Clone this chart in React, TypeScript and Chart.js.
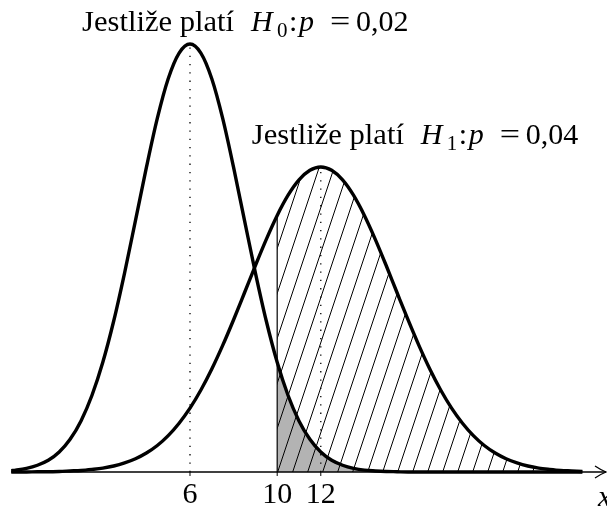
import React, { useEffect, useRef } from "react";
import { Chart, registerables } from "chart.js";

Chart.register(...registerables);

// x grid of the two density curves
const X = [
  -2.2, -2, -1.5, -1, -0.5, 0, 0.5, 1, 1.5, 2, 2.5, 3, 3.5, 4, 4.5, 5, 5.5, 6,
  6.5, 7, 7.5, 8, 8.5, 9, 9.5, 10, 10.5, 11, 11.5, 12, 12.5, 13, 13.5, 14, 14.5,
  15, 15.5, 16, 16.5, 17, 17.5, 18, 18.5, 19, 19.5, 20, 20.5, 21, 21.5, 22, 22.5,
  23, 23.5, 24,
];

// H0: p = 0,02 (mean 6)
const H0 = [
  0.0005, 0.0007, 0.0014, 0.0026, 0.0045, 0.0077, 0.0126, 0.0197, 0.0295, 0.0423,
  0.0582, 0.0768, 0.097, 0.1174, 0.1363, 0.1516, 0.1615, 0.165, 0.1615, 0.1516,
  0.1363, 0.1174, 0.097, 0.0768, 0.0582, 0.0423, 0.0295, 0.0197, 0.0126, 0.0077,
  0.0045, 0.0026, 0.0014, 0.0007, 0.0004, 0.0002, 0.0001, 0, 0, 0, 0, 0, 0, 0, 0,
  0, 0, 0, 0, 0, 0, 0, 0, 0,
];

// H1: p = 0,04 (mean 12)
const H1 = [
  0, 0, 0, 0.0001, 0.0001, 0.0002, 0.0004, 0.0006, 0.001, 0.0015, 0.0023, 0.0035,
  0.0051, 0.0073, 0.0102, 0.014, 0.0188, 0.0246, 0.0316, 0.0397, 0.0488, 0.0587,
  0.0691, 0.0796, 0.0897, 0.0989, 0.1067, 0.1126, 0.1163, 0.1176, 0.1163, 0.1126,
  0.1067, 0.0989, 0.0897, 0.0796, 0.0691, 0.0587, 0.0488, 0.0397, 0.0316, 0.0246,
  0.0188, 0.014, 0.0102, 0.0073, 0.0051, 0.0035, 0.0023, 0.0015, 0.001, 0.0006,
  0.0004, 0.0002,
];

const MEAN0 = 6;
const MEAN1 = 12;
const CRITICAL = 10;
const TICK_VALUES = [6, 10, 12];
const TICK_LABELS = ["6", "10", "12"];
const AXIS_LABEL = "x";
const TITLE0 = { text: "Jestliže platí", sub: "0", value: "0,02" };
const TITLE1 = { text: "Jestliže platí", sub: "1", value: "0,04" };

const SERIF = '"Liberation Serif", "Times New Roman", serif';

function pts(ys: number[]) {
  return X.map((x, i) => ({ x, y: ys[i] }));
}
function tail(ys: number[]) {
  return X.map((x, i) => ({ x, y: ys[i] })).filter((p) => p.x >= CRITICAL);
}
function valAt(ys: number[], x: number) {
  return ys[X.indexOf(x)];
}

function makeHatch(ctx: CanvasRenderingContext2D) {
  const w = 15;
  const h = 45;
  const c = document.createElement("canvas");
  c.width = w;
  c.height = h;
  const g = c.getContext("2d")!;
  g.strokeStyle = "#000";
  g.lineWidth = 1;
  for (const off of [-w, 0, w]) {
    g.beginPath();
    g.moveTo(off, h);
    g.lineTo(off + w, 0);
    g.stroke();
  }
  return ctx.createPattern(c, "repeat")!;
}

function txt(
  ctx: CanvasRenderingContext2D,
  s: string,
  font: string,
  x: number,
  y: number,
  sx = 1
) {
  ctx.save();
  ctx.font = font;
  ctx.translate(x, y);
  ctx.scale(sx, 1);
  ctx.fillText(s, 0, 0);
  ctx.restore();
}

function drawTitle(
  ctx: CanvasRenderingContext2D,
  left: number,
  base: number,
  t: { text: string; sub: string; value: string }
) {
  const roman = `30px ${SERIF}`;
  const ital = `italic 30px ${SERIF}`;
  const small = `21px ${SERIF}`;
  ctx.textAlign = "left";
  ctx.textBaseline = "alphabetic";
  ctx.fillStyle = "#000";
  txt(ctx, t.text, roman, left, base, 1.02);
  txt(ctx, "H", ital, left + 169, base);
  txt(ctx, t.sub, small, left + 195, base + 6);
  txt(ctx, ":", roman, left + 207, base);
  txt(ctx, "p", ital, left + 217, base);
  txt(ctx, "=", roman, left + 248, base, 1.2);
  txt(ctx, t.value, roman, left + 274, base);
}

const decor = {
  id: "decor",
  afterDatasetsDraw(chart: any) {
    const ctx: CanvasRenderingContext2D = chart.ctx;
    const xs = chart.scales.x;
    const ys = chart.scales.y;
    const y0 = ys.getPixelForValue(0);
    const right = chart.chartArea.right;
    ctx.save();
    ctx.strokeStyle = "#000";
    ctx.lineWidth = 1.3;
    ctx.beginPath();
    ctx.moveTo(xs.getPixelForValue(X[0]), y0);
    ctx.lineTo(right - 1, y0);
    ctx.stroke();
    const tip = right - 1;
    ctx.beginPath();
    ctx.moveTo(tip - 11, y0 - 6);
    ctx.quadraticCurveTo(tip - 5, y0 - 2, tip, y0);
    ctx.quadraticCurveTo(tip - 5, y0 + 2, tip - 11, y0 + 6);
    ctx.stroke();

    // ticks & labels
    ctx.lineWidth = 1;
    ctx.fillStyle = "#000";
    ctx.font = `30px ${SERIF}`;
    ctx.textAlign = "center";
    ctx.textBaseline = "alphabetic";
    TICK_VALUES.forEach((v, i) => {
      const px = xs.getPixelForValue(v);
      ctx.beginPath();
      ctx.moveTo(px, y0);
      ctx.lineTo(px, y0 + 4);
      ctx.stroke();
      ctx.fillText(TICK_LABELS[i], px, y0 + 31);
    });
    ctx.font = `italic 30px ${SERIF}`;
    ctx.textAlign = "left";
    ctx.fillText(AXIS_LABEL, right - 9, y0 + 34);

    // titles anchored at the peaks
    const p0x = xs.getPixelForValue(MEAN0);
    const p0y = ys.getPixelForValue(valAt(H0, MEAN0));
    drawTitle(ctx, p0x - 108, p0y - 13, TITLE0);
    const p1x = xs.getPixelForValue(MEAN1);
    const p1y = ys.getPixelForValue(valAt(H1, MEAN1));
    drawTitle(ctx, p1x - 69, p1y - 23, TITLE1);
    ctx.restore();
  },
};

export default function App() {
  const ref = useRef<HTMLCanvasElement>(null);
  useEffect(() => {
    const canvas = ref.current!;
    const ctx = canvas.getContext("2d")!;
    const hatch = makeHatch(ctx);
    const curve = {
      borderColor: "#000",
      borderWidth: 3.4,
      pointRadius: 0,
      fill: false,
      cubicInterpolationMode: "monotone" as const,
    };
    const chart = new Chart(canvas, {
      type: "line",
      data: {
        datasets: [
          {
            data: tail(H0),
            borderColor: "rgba(0,0,0,0)",
            borderWidth: 0,
            backgroundColor: "#b3b3b3",
            fill: "origin",
            pointRadius: 0,
            cubicInterpolationMode: "monotone",
            order: 6,
          },
          {
            data: tail(H1),
            borderColor: "rgba(0,0,0,0)",
            borderWidth: 0,
            backgroundColor: hatch,
            fill: "origin",
            pointRadius: 0,
            cubicInterpolationMode: "monotone",
            order: 5,
          },
          {
            data: [
              { x: CRITICAL, y: 0 },
              { x: CRITICAL, y: valAt(H1, CRITICAL) },
            ],
            borderColor: "#000",
            borderWidth: 1.2,
            pointRadius: 0,
            fill: false,
            order: 4,
          },
          {
            data: [
              { x: MEAN0, y: 0 },
              { x: MEAN0, y: valAt(H0, MEAN0) },
            ],
            borderColor: "#000",
            borderWidth: 1.3,
            borderDash: [1.3, 7],
            pointRadius: 0,
            fill: false,
            order: 4,
          },
          {
            data: [
              { x: MEAN1, y: 0 },
              { x: MEAN1, y: valAt(H1, MEAN1) },
            ],
            borderColor: "#000",
            borderWidth: 1.3,
            borderDash: [1.3, 7],
            pointRadius: 0,
            fill: false,
            order: 4,
          },
          { ...curve, data: pts(H0), order: 1 },
          { ...curve, data: pts(H1), order: 2 },
        ],
      },
      options: {
        animation: false,
        responsive: false,
        layout: { padding: 0 },
        plugins: { legend: { display: false }, tooltip: { enabled: false } },
        scales: {
          x: { type: "linear", min: -2.716, max: 25.13, display: false },
          y: { type: "linear", min: -0.01311, max: 0.18196, display: false },
        },
      },
      plugins: [decor],
    });
    return () => chart.destroy();
  }, []);
  return (
    <div style={{ position: "fixed", left: 0, top: 0, width: 607, height: 506, background: "#fff" }}>
      <canvas ref={ref} width={607} height={506} style={{ display: "block" }} />
    </div>
  );
}
